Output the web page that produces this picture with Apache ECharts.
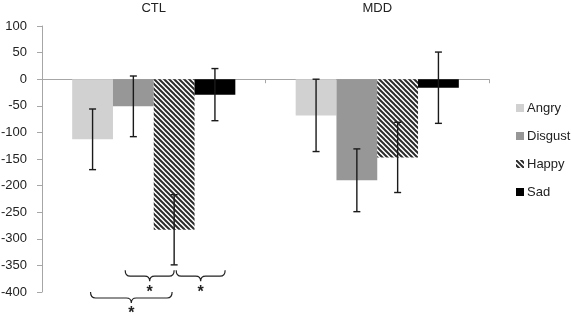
<!DOCTYPE html>
<html>
<head>
<meta charset="utf-8">
<script src="https://cdn.jsdelivr.net/npm/echarts@6/dist/echarts.min.js"></script>
<style>
  html, body { margin: 0; padding: 0; background: #fff; }
  #chart { width: 571px; height: 316px; }
</style>
</head>
<body>
<div id="chart"></div>
<script>
// groups on the x axis
const categories = ['CTL', 'MDD'];
const emotions = ['Angry', 'Disgust', 'Happy', 'Sad'];

// mean values per emotion, one per group
const angry = [-113, -68];
const disgust = [-51, -190];
const happy = [-283, -147];
const sad = [-29, -16];

// error bar half-widths (same order)
const angryErr = [57, 68];
const disgustErr = [57, 59];
const happyErr = [66, 66];
const sadErr = [49, 67];

// significance braces: [group, fromBar, toBar, topValue]
const braces = [
  [0, 0.8, 2.0, -359],
  [0, 2.05, 3.25, -359],
  [0, -0.05, 1.95, -400]
];

const yTicks = { min: -400, max: 100, step: 50 };

const gapRatio = 0.27;
const FONT = 'Liberation Sans';

// diagonal hatch for Happy
function hatch() {
  const s = 5;
  const c = document.createElement('canvas');
  c.width = s; c.height = s;
  const ctx = c.getContext('2d');
  ctx.fillStyle = '#fff';
  ctx.fillRect(0, 0, s, s);
  ctx.strokeStyle = '#2b2b2b';
  ctx.lineWidth = 2;
  for (let k = -1; k <= 1; k++) {
    ctx.beginPath();
    ctx.moveTo(k * s - 1, -1);
    ctx.lineTo(k * s + s + 1, s + 1);
    ctx.stroke();
  }
  return { image: c, repeat: 'repeat' };
}

const means = [angry, disgust, happy, sad];
const errs = [angryErr, disgustErr, happyErr, sadErr];
const colors = ['#d1d1d1', '#979797', hatch(), '#000000'];

const errData = [];
means.forEach((vals, k) => {
  vals.forEach((v, i) => {
    errData.push([i, k, v - errs[k][i], v + errs[k][i]]);
  });
});

function barX(api, cat, pos) {
  const center = api.coord([cat, 0])[0];
  const band = api.size([1, 0])[0];
  const barW = band * (1 - gapRatio) / 4;
  return center - band * (1 - gapRatio) / 2 + barW * (pos + 0.5);
}

const chart = echarts.init(document.getElementById('chart'));

chart.setOption({
  animation: false,
  grid: { left: 42, right: 82, top: 26, bottom: 24, outerBoundsMode: 'none', containLabel: false },
  legend: {
    orient: 'vertical',
    left: 511,
    top: 95,
    itemWidth: 8,
    itemHeight: 8,
    itemGap: 12,
    icon: 'rect',
    data: emotions,
    textStyle: { fontFamily: FONT, fontSize: 13, color: '#222', lineHeight: 16, padding: [0, 0, 0, -2] }
  },
  xAxis: [{
    type: 'category',
    data: categories,
    position: 'bottom',
    axisLine: { onZero: true, lineStyle: { color: '#a6a6a6', width: 1 } },
    axisTick: { show: true, length: 4, lineStyle: { color: '#a6a6a6' } },
    axisLabel: { show: false }
  }, {
    type: 'category',
    data: categories,
    position: 'top',
    axisLine: { show: false },
    axisTick: { show: false },
    axisLabel: { fontFamily: FONT, fontSize: 13, color: '#222', margin: 11 }
  }],
  yAxis: {
    type: 'value',
    min: yTicks.min,
    max: yTicks.max,
    interval: yTicks.step,
    axisLine: { show: true, lineStyle: { color: '#a6a6a6', width: 1 } },
    axisTick: { show: true, length: 5, lineStyle: { color: '#a6a6a6' } },
    splitLine: { show: false },
    axisLabel: { fontFamily: FONT, fontSize: 13, color: '#222', margin: 15 }
  },
  series: [
    ...emotions.map((name, k) => ({
      name: name,
      type: 'bar',
      data: means[k],
      barGap: '0%',
      barCategoryGap: (gapRatio * 100) + '%',
      itemStyle: { color: colors[k] }
    })),
    {
      type: 'custom',
      name: 'err',
      data: errData,
      z: 5,
      renderItem: function (params, api) {
        const cat = api.value(0);
        const x = barX(api, cat, api.value(1));
        const lo = api.coord([cat, api.value(2)])[1];
        const hi = api.coord([cat, api.value(3)])[1];
        const cap = 3.5;
        const st = { stroke: '#1a1a1a', lineWidth: 1.4 };
        return {
          type: 'group',
          children: [
            { type: 'line', shape: { x1: x, y1: lo, x2: x, y2: hi }, style: st },
            { type: 'line', shape: { x1: x - cap, y1: lo, x2: x + cap, y2: lo }, style: st },
            { type: 'line', shape: { x1: x - cap, y1: hi, x2: x + cap, y2: hi }, style: st }
          ]
        };
      }
    },
    {
      type: 'custom',
      name: 'braces',
      data: braces,
      clip: false,
      z: 5,
      renderItem: function (params, api) {
        const cat = api.value(0);
        const x1 = barX(api, cat, api.value(1));
        const x2 = barX(api, cat, api.value(2));
        const y0 = api.coord([cat, api.value(3)])[1];
        const y1 = y0 + 6, y2 = y1 + 5, r = 5;
        const xm = (x1 + x2) / 2;
        const path = 'M' + x1 + ',' + y0 +
          ' Q' + x1 + ',' + y1 + ' ' + (x1 + r) + ',' + y1 +
          ' L' + (xm - r) + ',' + y1 +
          ' Q' + xm + ',' + y1 + ' ' + xm + ',' + y2 +
          ' Q' + xm + ',' + y1 + ' ' + (xm + r) + ',' + y1 +
          ' L' + (x2 - r) + ',' + y1 +
          ' Q' + x2 + ',' + y1 + ' ' + x2 + ',' + y0;
        return {
          type: 'group',
          children: [
            { type: 'path', shape: { pathData: path }, style: { fill: null, stroke: '#222', lineWidth: 1.2 } },
            { type: 'text', x: xm, y: y2 + 3, style: { text: '*', fontFamily: FONT, fontSize: 16, fontWeight: 'bold', fill: '#222', align: 'center', verticalAlign: 'top' } }
          ]
        };
      }
    }
  ]
});
</script>
</body>
</html>
